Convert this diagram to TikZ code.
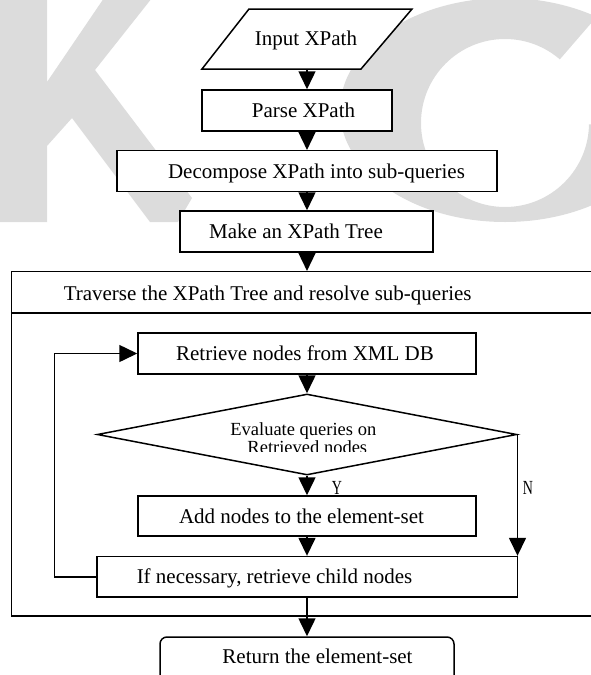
\documentclass[tikz,border=0pt]{standalone}
\usepackage{fontspec}
\setmainfont{Liberation Serif}
\usetikzlibrary{shapes.geometric,arrows.meta}

\definecolor{wmgray}{RGB}{220,220,220}

\begin{document}
\begin{tikzpicture}[x=1pt,y=-1pt,
  line width=1.5pt,
  box/.style={draw,fill=white,rectangle,inner sep=0pt},
  txt/.style={inner sep=0pt,anchor=base,font=\fontsize{21}{25}\selectfont},
  smalltxt/.style={inner sep=0pt,anchor=base,font=\fontsize{18.5}{21}\selectfont},
  yn/.style={inner sep=0pt,anchor=base,font=\fontsize{20}{22}\selectfont},
  flow/.style={-{Triangle[length=18pt,width=17pt]}},
]
\useasboundingbox (0,0) rectangle (591,675);
\clip (0,0) rectangle (591,675);

% background logo
\fill[wmgray] (0,-2) -- (47,-2) -- (47,82) -- (104,-2) -- (152,-2) -- (95,70)
  -- (192,198) -- (178,222) -- (150,222) -- (72,118) -- (47,146) -- (47,222)
  -- (0,222) -- cycle;
\fill[wmgray, even odd rule] (505,110) ellipse [x radius=165pt, y radius=112pt]
  (505,123) circle [radius=84pt];
\fill[white] (505,123) -- (620,-10) -- (620,125) -- cycle;

\coordinate (axis) at (307,0);

% input parallelogram
\draw[fill=white] (249,9) -- (412,9) -- (361,69) -- (202,69) -- cycle;
\coordinate (inp) at (307,69);
\node[txt] (t-inp) at (306,45) {Input XPath};

% process boxes
\node[box, minimum width=190pt, minimum height=41pt] (parse) at (297,110.5) {};
\node[txt] (t-parse) at (303.5,117.5) {Parse XPath};

\node[box, minimum width=380pt, minimum height=41pt] (dec) at (307.2,171.2) {};
\node[txt] (t-dec) at (316.5,178.2) {Decompose XPath into sub-queries};

\node[box, minimum width=253pt, minimum height=41pt] (make) at (306.7,231.5) {};
\node[txt] (t-make) at (296,238.5) {Make an XPath Tree};

% outer loop frame
\node[box, minimum width=588pt, minimum height=344.3pt] (trav) at (305.7,443.85) {};
\draw (trav.west |- 0,313) -- (trav.east |- 0,313);
\node[txt, anchor=base west] (t-trav) at (63,300) {Traverse the XPath Tree and resolve sub-queries};

\node[box, minimum width=338pt, minimum height=41pt] (retr) at (307,353.5) {};
\node[txt] (t-retr) at (305,360.5) {Retrieve nodes from XML DB};

\node[draw, fill=white, diamond, inner sep=0pt, minimum width=419.5pt,
  minimum height=81pt] (dia) at (307,434.5) {};
\begin{scope}
  \clip (150,410) rectangle (460,451);
  \node[smalltxt] (t-dia1) at (303.3,435.5) {Evaluate queries on};
  \node[smalltxt] (t-dia2) at (307.3,453.5) {Retrieved nodes};
\end{scope}

\node[box, minimum width=338pt, minimum height=40pt] (add) at (307,516) {};
\node[txt] (t-add) at (301.5,523) {Add nodes to the element-set};

\node[box, minimum width=420.5pt, minimum height=40.5pt] (ifb) at (307.2,576.8) {};
\node[txt, anchor=base west] (t-ifb) at (136,583.8) {If necessary, retrieve child nodes};

% final box runs past the lower edge of the sheet
\node[box, rounded corners=7pt, minimum width=294pt, minimum height=70pt] (ret) at (307,672) {};
\node[txt] (t-ret) at (317.5,663.7) {Return the element-set};

% connectors
\draw[flow] (inp) -- (axis |- parse.north);
\draw[flow] (axis |- parse.south) -- (axis |- dec.north);
\draw[flow] (axis |- dec.south) -- (axis |- make.north);
\draw[flow] (axis |- make.south) -- (axis |- trav.north);
\draw[flow] (axis |- retr.south) -- (dia.north);
\draw[flow] (dia.south) -- (axis |- add.north);
\draw[flow] (axis |- add.south) -- (axis |- ifb.north);
\draw[flow] (dia.east) -- (dia.east |- ifb.north);
\coordinate (loopx) at (54.7,0);
\draw[flow] (ifb.west) -- (loopx |- ifb.west) |- (retr.west);
\draw[flow] (axis |- ifb.south) -- (axis |- ret.north);

% branch labels
\node[yn] (t-y) at (337,494) {\scalebox{0.7}[1]{Y}};
\node[yn] (t-n) at (528,494) {\scalebox{0.7}[1]{N}};
\end{tikzpicture}
\end{document}
